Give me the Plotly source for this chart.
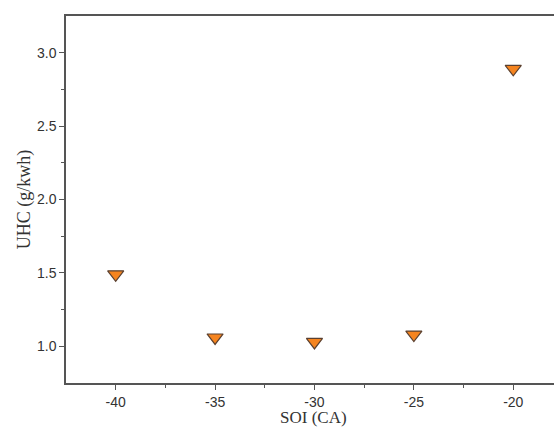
import plotly.graph_objects as go

soi = [-40, -35, -30, -25, -20]
uhc = [1.49, 1.06, 1.03, 1.08, 2.89]

fig = go.Figure()
fig.add_trace(go.Scatter(
    x=soi, y=uhc, mode="markers",
    marker=dict(symbol="triangle-down", size=14, color="#F5841F",
                line=dict(color="#5a4030", width=1.2)),
    showlegend=False,
))

axis_common = dict(
    showline=True, linecolor="#555555", linewidth=1.5,
    ticks="outside", ticklen=5, tickwidth=1.2, tickcolor="#555555",
    showgrid=False, zeroline=False,
    tickfont=dict(family="Liberation Sans, Arial", size=14, color="#333333"),
)

fig.update_layout(
    width=554, height=428,
    margin=dict(l=66, r=0, t=16, b=45),
    plot_bgcolor="white", paper_bgcolor="white",
    xaxis=dict(
        range=[-42.5, -17.95], tickvals=[-40, -35, -30, -25, -20],
        ticktext=["-40", "-35", "-30", "-25", "-20"],
        mirror=True, ticklabelstandoff=0,
        minor=dict(tickvals=[-37.5, -32.5, -27.5, -22.5], ticks="outside",
                   ticklen=3, tickwidth=1.2, tickcolor="#555555"),
        **axis_common,
    ),
    yaxis=dict(
        range=[0.75, 3.25], tickvals=[1.0, 1.5, 2.0, 2.5, 3.0],
        ticktext=["1.0", "1.5", "2.0", "2.5", "3.0"],
        minor=dict(tickvals=[1.25, 1.75, 2.25, 2.75], ticks="outside",
                   ticklen=3, tickwidth=1.2, tickcolor="#555555"),
        title=dict(text="UHC (g/kwh)", standoff=2,
                   font=dict(family="Liberation Serif, Times New Roman", size=18, color="#333333")),
        **axis_common,
    ),
    annotations=[dict(
        text="SOI (CA)", xref="paper", yref="paper", x=0.507, y=0,
        xanchor="center", yanchor="bottom", yshift=-45, borderpad=0, showarrow=False,
        font=dict(family="Liberation Serif, Times New Roman", size=17, color="#333333"),
    )],
)

fig.write_html("out.html")
